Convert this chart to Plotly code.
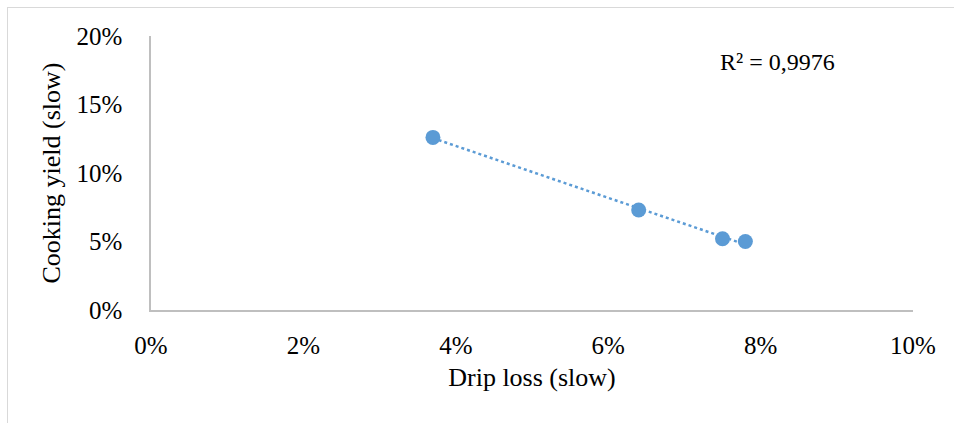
import numpy as np
import plotly.graph_objects as go

drip_loss = [0.037, 0.064, 0.075, 0.078]
cooking_yield = [0.126, 0.073, 0.052, 0.050]
x_ticks = [0, 0.02, 0.04, 0.06, 0.08, 0.10]
x_tick_labels = ["0%", "2%", "4%", "6%", "8%", "10%"]
y_ticks = [0, 0.05, 0.10, 0.15, 0.20]
y_tick_labels = ["0%", "5%", "10%", "15%", "20%"]
r2_label = "R² = 0,9976"

W, H = 954, 423
L, R, T, B = 151, 41, 36, 113
blue = "#5b9bd5"
font = "Liberation Serif, Times New Roman, serif"

slope, intercept = np.polyfit(drip_loss, cooking_yield, 1)
tx = [min(drip_loss), max(drip_loss)]
ty = [slope * v + intercept for v in tx]

fig = go.Figure()
fig.add_trace(go.Scatter(x=tx, y=ty, mode="lines",
                         line=dict(color=blue, width=2.5, dash="dot"),
                         hoverinfo="skip", showlegend=False))
fig.add_trace(go.Scatter(x=drip_loss, y=cooking_yield, mode="markers",
                         marker=dict(color=blue, size=15, line=dict(width=0)),
                         showlegend=False))

fig.update_layout(
    width=W, height=H,
    margin=dict(l=L, r=R, t=T, b=B),
    paper_bgcolor="white", plot_bgcolor="white",
    font=dict(family=font, size=25, color="#000000"),
    xaxis=dict(range=[0, 0.10], tickvals=x_ticks, ticktext=x_tick_labels,
               showgrid=False, zeroline=False, showline=True,
               linecolor="#bfbfbf", linewidth=1.5, ticks="",
               ticklabelstandoff=12,
               title=dict(text="Drip loss (slow)", font=dict(size=26), standoff=10),
               tickfont=dict(size=25)),
    yaxis=dict(range=[0, 0.20], tickvals=y_ticks, ticktext=y_tick_labels,
               showgrid=False, zeroline=False, showline=True,
               linecolor="#bfbfbf", linewidth=1.5, ticks="",
               ticklabelstandoff=22,
               title=dict(text="Cooking yield (slow)", font=dict(size=26), standoff=8),
               tickfont=dict(size=25)),
    shapes=[
        dict(type="line", xref="paper", yref="paper",
             x0=-(L - 7) / (W - L - R), x1=(W - L) / (W - L - R),
             y0=(H - B - 7.5) / (H - T - B), y1=(H - B - 7.5) / (H - T - B),
             line=dict(color="#d9d9d9", width=1)),
        dict(type="line", xref="paper", yref="paper",
             x0=-(L - 7.5) / (W - L - R), x1=-(L - 7.5) / (W - L - R),
             y0=(H - B - 7) / (H - T - B), y1=-B / (H - T - B),
             line=dict(color="#d9d9d9", width=1)),
    ],
    annotations=[dict(text=r2_label, xref="paper", yref="paper",
                      x=(718 - L) / (W - L - R), y=(H - B - 62) / (H - T - B),
                      xanchor="left", yanchor="middle", showarrow=False,
                      font=dict(family=font, size=24, color="#000000"))],
)

fig.write_html("out.html", config={"displayModeBar": False},
               post_script="document.body.style.margin='0';document.body.style.padding='0';")
